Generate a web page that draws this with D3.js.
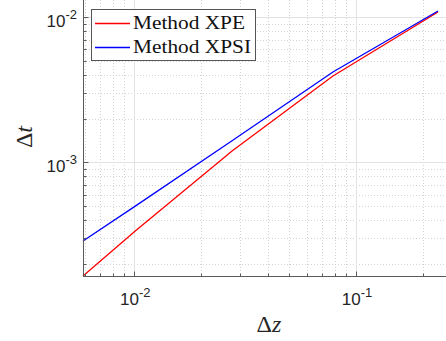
<!DOCTYPE html>
<html>
<head>
<meta charset="utf-8">
<script src="https://cdn.jsdelivr.net/npm/d3@7"></script>
<style>
  body { margin: 0; background: #fff; }
  svg { display: block; }
</style>
</head>
<body>
<div id="chart"></div>
<script>
// data
var dz = [0.00587, 0.0101, 0.0276, 0.0787, 0.2344];
var dtXPE = [1.65e-4, 3.37e-4, 1.198e-3, 3.93e-3, 1.082e-2];
var dtXPSI = [2.873e-4, 4.99e-4, 1.408e-3, 4.18e-3, 1.099e-2];
var seriesNames = ["Method XPE", "Method XPSI"];
var seriesColors = ["#ff0000", "#0000ff"];
var xMajor = [0.01, 0.1];
var yMajor = [1e-3, 1e-2];

var W = 446, H = 341;
var pLeft = 83, pBottom = 276, pTop = -1, pRight = 455;

var svg = d3.select("#chart").append("svg")
    .attr("width", W)
    .attr("height", H);

var x = d3.scaleLog().domain([0.00587, 0.2796]).range([pLeft, pRight]);
var y = d3.scaleLog().domain([1.65e-4, 0.0133]).range([pBottom, pTop]);

// minor tick values
var xMinor = [], yMinor = [];
[0.001, 0.01, 0.1].forEach(function(d) {
  for (var k = 2; k <= 9; k++) {
    var v = d * k;
    if (v > x.domain()[0] && v < x.domain()[1]) xMinor.push(v);
  }
});
[1e-4, 1e-3, 1e-2].forEach(function(d) {
  for (var k = 2; k <= 9; k++) {
    var v = d * k;
    if (v > y.domain()[0] && v < y.domain()[1]) yMinor.push(v);
  }
});

function px(v) { return Math.round(x(v)) + 0.5; }
function py(v) { return Math.round(y(v)) + 0.5; }

var plot = svg.append("g");

// minor grid (dotted)
plot.selectAll(".xminor").data(xMinor).enter().append("line")
  .attr("x1", px).attr("x2", px)
  .attr("y1", 0).attr("y2", pBottom)
  .attr("stroke", "#d4d4d4").attr("stroke-dasharray", "1,2");
plot.selectAll(".yminor").data(yMinor).enter().append("line")
  .attr("y1", py).attr("y2", py)
  .attr("x1", pLeft).attr("x2", W)
  .attr("stroke", "#d4d4d4").attr("stroke-dasharray", "1,2");

// major grid
plot.selectAll(".xmajor").data(xMajor).enter().append("line")
  .attr("x1", px).attr("x2", px)
  .attr("y1", 0).attr("y2", pBottom)
  .attr("stroke", "#e3e3e3");
plot.selectAll(".ymajor").data(yMajor).enter().append("line")
  .attr("y1", py).attr("y2", py)
  .attr("x1", pLeft).attr("x2", W)
  .attr("stroke", "#e3e3e3");

// data lines
var series = [dtXPE, dtXPSI];
series.forEach(function(s, i) {
  plot.append("path")
    .datum(dz.map(function(d, j) { return [d, s[j]]; }))
    .attr("fill", "none")
    .attr("stroke", seriesColors[i])
    .attr("stroke-width", 1.3)
    .attr("d", d3.line()
      .x(function(d) { return x(d[0]); })
      .y(function(d) { return y(d[1]); }));
});

// axes (ticks inward)
var axisColor = "#5a5a5a";
var xAxis = svg.append("g").attr("transform", "translate(0," + (pBottom + 0.5) + ")");
xAxis.append("line").attr("x1", pLeft).attr("x2", W).attr("stroke", axisColor);
xAxis.selectAll(".mj").data(xMajor).enter().append("line")
  .attr("x1", px).attr("x2", px)
  .attr("y1", 0).attr("y2", -5).attr("stroke", axisColor);
xAxis.selectAll(".mn").data(xMinor).enter().append("line")
  .attr("x1", px).attr("x2", px)
  .attr("y1", 0).attr("y2", -3).attr("stroke", axisColor);

var yAxis = svg.append("g").attr("transform", "translate(" + (pLeft + 0.5) + ",0)");
yAxis.append("line").attr("y1", 0).attr("y2", pBottom + 1).attr("stroke", axisColor);
yAxis.selectAll(".mj").data(yMajor).enter().append("line")
  .attr("y1", py).attr("y2", py)
  .attr("x1", 0).attr("x2", 5).attr("stroke", axisColor);
yAxis.selectAll(".mn").data(yMinor).enter().append("line")
  .attr("y1", py).attr("y2", py)
  .attr("x1", 0).attr("x2", 3).attr("stroke", axisColor);

// tick labels
function expOf(v) { return Math.round(Math.log10(v)); }
var tickFont = "'Liberation Sans', Arial, sans-serif";
var xl = svg.selectAll(".xtl").data(xMajor).enter().append("text")
  .attr("x", function(d) { return x(d) + 1; })
  .attr("y", 305)
  .attr("text-anchor", "middle")
  .attr("font-family", tickFont).attr("font-size", 17).attr("fill", "#262626");
xl.append("tspan").text("10");
xl.append("tspan").attr("dy", -8).attr("font-size", 13).text(function(d) { return expOf(d); });

var yl = svg.selectAll(".ytl").data(yMajor).enter().append("text")
  .attr("x", 77)
  .attr("y", function(d) { return y(d) + 10; })
  .attr("text-anchor", "end")
  .attr("font-family", tickFont).attr("font-size", 17).attr("fill", "#262626");
yl.append("tspan").text("10");
yl.append("tspan").attr("dy", -8).attr("font-size", 13).text(function(d) { return expOf(d); });

// axis labels
var serif = "'Liberation Serif', 'DejaVu Serif', serif";
var xLab = svg.append("text")
  .attr("x", 269).attr("y", 332)
  .attr("text-anchor", "middle")
  .attr("font-family", serif).attr("font-size", 24).attr("fill", "#262626");
xLab.append("tspan").text("Δ");
xLab.append("tspan").attr("font-style", "italic").text("z");

var yLab = svg.append("text")
  .attr("transform", "translate(32,137) rotate(-90)")
  .attr("text-anchor", "middle")
  .attr("font-family", serif).attr("font-size", 24).attr("fill", "#262626");
yLab.append("tspan").text("Δ");
yLab.append("tspan").attr("font-style", "italic").text("t");

// legend
var lg = svg.append("g");
lg.append("rect")
  .attr("x", 91.5).attr("y", 9.5).attr("width", 164).attr("height", 51)
  .attr("fill", "#fff").attr("stroke", "#555").attr("stroke-width", 1);
seriesNames.forEach(function(name, i) {
  var cy = 23 + i * 24;
  lg.append("line")
    .attr("x1", 95).attr("x2", 130).attr("y1", cy + 0.5).attr("y2", cy + 0.5)
    .attr("stroke", seriesColors[i]).attr("stroke-width", 1.3);
  lg.append("text")
    .attr("x", 133).attr("y", cy + 6)
    .attr("font-family", serif).attr("font-size", 18).attr("fill", "#111")
    .attr("textLength", i === 0 ? 112 : 118)
    .attr("lengthAdjust", "spacingAndGlyphs")
    .text(name);
});
</script>
</body>
</html>
